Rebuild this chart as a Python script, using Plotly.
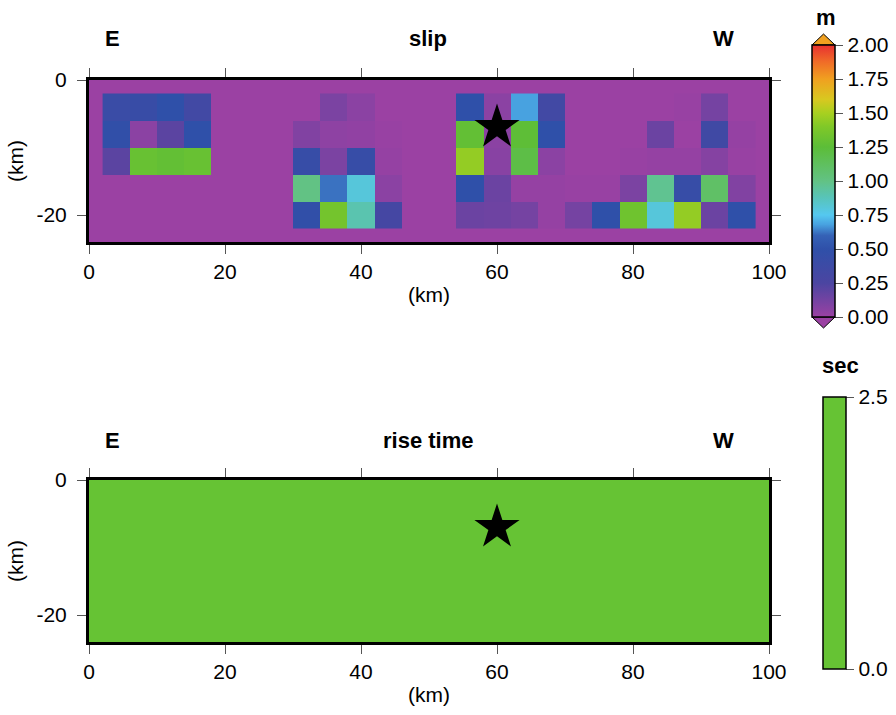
import plotly.graph_objects as go

W, H = 896, 715
FONT = "Liberation Sans, Arial, Helvetica, sans-serif"

# ---------------- data ----------------
# subfault centres along strike (km) and down dip (km)
x_centers = [4, 8, 12, 16, 20, 24, 28, 32, 36, 40, 44, 48,
             52, 56, 60, 64, 68, 72, 76, 80, 84, 88, 92, 96]
y_centers = [-4, -8, -12, -16, -20]

# slip (m), rows top (shallow) to bottom (deep)
slip = [
    [0.40, 0.42, 0.50, 0.33, 0, 0, 0, 0.00, 0.10, 0.05, 0.00, 0,
     0, 0.50, 0.05, 0.68, 0.33, 0.00, 0.00, 0.00, 0.00, 0.01, 0.12, 0.00],
    [0.48, 0.05, 0.20, 0.50, 0, 0, 0, 0.08, 0.04, 0.03, 0.01, 0,
     0, 1.28, 0.05, 1.26, 0.50, 0.00, 0.00, 0.00, 0.15, 0.00, 0.35, 0.02],
    [0.20, 1.30, 1.28, 1.30, 0, 0, 0, 0.43, 0.10, 0.43, 0.02, 0,
     0, 1.45, 0.06, 1.20, 0.05, 0.00, 0.00, 0.01, 0.02, 0.02, 0.07, 0.01],
    [0.00, 0.00, 0.00, 0.00, 0, 0, 0, 1.00, 0.62, 0.80, 0.05, 0,
     0, 0.50, 0.15, 0.02, 0.02, 0.01, 0.01, 0.10, 0.97, 0.43, 1.10, 0.08],
    [0.00, 0.00, 0.00, 0.00, 0, 0, 0, 0.48, 1.35, 0.90, 0.30, 0,
     0, 0.15, 0.14, 0.12, 0.02, 0.12, 0.50, 1.33, 0.80, 1.45, 0.15, 0.50],
]

# rise time (s): uniform
rise_time = [[1.0] * 24 for _ in range(5)]

hypo_x = [60]
hypo_y = [-7]

x_ticks = [0, 20, 40, 60, 80, 100]
y_ticks = [-20, 0]
y_ticktext = ["-20", "0"]
slip_ticks = [0, 0.25, 0.5, 0.75, 1.0, 1.25, 1.5, 1.75, 2.0]
slip_ticktext = ["0.00", "0.25", "0.50", "0.75", "1.00", "1.25", "1.50", "1.75", "2.00"]
rt_ticks = [0, 2.5]
rt_ticktext = ["0.0", "2.5"]

# ---------------- style ----------------
slip_scale = [
    [0.000, "#9b41a3"],
    [0.125, "#4b45a1"],
    [0.250, "#2f50a9"],
    [0.300, "#3562b6"],
    [0.340, "#48a2e0"],
    [0.375, "#55c8f0"],
    [0.440, "#58c4b8"],
    [0.500, "#62c284"],
    [0.625, "#5cbd38"],
    [0.700, "#80c828"],
    [0.750, "#a8d020"],
    [0.800, "#d8c820"],
    [0.875, "#f0a020"],
    [0.940, "#f06a28"],
    [1.000, "#e83030"],
]
GREEN = "#66c334"
PURPLE = "#9b41a3"
TICK_FS = 21

def px(x):
    return x / W

def py(y):
    return 1 - y / H

fig = go.Figure()

fig.add_trace(go.Heatmap(
    x=x_centers, y=y_centers, z=slip, coloraxis="coloraxis",
    xaxis="x", yaxis="y", hoverinfo="skip"))
fig.add_trace(go.Heatmap(
    x=x_centers, y=y_centers, z=rise_time, coloraxis="coloraxis2",
    xaxis="x2", yaxis="y2", hoverinfo="skip"))
for xa, ya in (("x", "y"), ("x2", "y2")):
    fig.add_trace(go.Scatter(
        x=hypo_x, y=hypo_y, mode="markers", xaxis=xa, yaxis=ya,
        marker=dict(symbol="star", size=34, color="black", line=dict(width=0)),
        showlegend=False, hoverinfo="skip"))

xdom = [px(89), px(769)]
ydom1 = [py(242), py(80)]
ydom2 = [py(642), py(480)]

def xaxis(dom, anchor):
    return dict(domain=dom, anchor=anchor, range=[0, 100], tickvals=x_ticks,
                ticks="outside", ticklen=9, tickwidth=1.2, tickcolor="#555",
                showline=True, linewidth=3, linecolor="black", mirror="ticks",
                showgrid=False, zeroline=False, automargin=False,
                tickfont=dict(size=TICK_FS, color="black"),
                title=dict(text="(km)", font=dict(size=TICK_FS, color="black"), standoff=6))

def yaxis(dom, anchor):
    return dict(domain=dom, anchor=anchor, range=[-24, 0], tickvals=y_ticks,
                ticktext=y_ticktext,
                ticks="outside", ticklen=9, tickwidth=1.2, tickcolor="#555",
                showline=True, linewidth=3, linecolor="black", mirror="ticks",
                showgrid=False, zeroline=False, automargin=False,
                ticklabelstandoff=6,
                tickfont=dict(size=TICK_FS, color="black"),
                title=dict(text="(km)", font=dict(size=TICK_FS, color="black"), standoff=8))

cb1_top, cb1_bot = 45, 317
cb2_top, cb2_bot = 397, 669
cb1_x0, cb1_x1 = 812, 835
cb2_x0, cb2_x1 = 823, 846

fig.update_layout(
    width=W, height=H, margin=dict(l=0, r=0, t=0, b=0, pad=0, autoexpand=False),
    paper_bgcolor="white", plot_bgcolor="white",
    font=dict(family=FONT, color="black"),
    showlegend=False,
    xaxis=xaxis(xdom, "y"), yaxis=yaxis(ydom1, "x"),
    xaxis2=xaxis(xdom, "y2"), yaxis2=yaxis(ydom2, "x2"),
    coloraxis=dict(
        colorscale=slip_scale, cmin=0, cmax=2,
        colorbar=dict(
            x=px(cb1_x0), xanchor="left", xpad=0, ypad=0,
            y=py((cb1_top + cb1_bot) / 2), yanchor="middle",
            lenmode="pixels", len=cb1_bot - cb1_top,
            thicknessmode="pixels", thickness=cb1_x1 - cb1_x0,
            outlinewidth=1.5, outlinecolor="black",
            tickvals=slip_ticks, ticktext=slip_ticktext,
            ticks="outside", ticklen=8, tickwidth=1.2, tickcolor="#555",
            tickfont=dict(size=TICK_FS, color="black"))),
    coloraxis2=dict(
        colorscale=[[0, GREEN], [1, GREEN]], cmin=0, cmax=2.5,
        colorbar=dict(
            x=px(cb2_x0), xanchor="left", xpad=0, ypad=0,
            y=py((cb2_top + cb2_bot) / 2), yanchor="middle",
            lenmode="pixels", len=cb2_bot - cb2_top,
            thicknessmode="pixels", thickness=cb2_x1 - cb2_x0,
            outlinewidth=1.5, outlinecolor="black",
            tickvals=rt_ticks, ticktext=rt_ticktext,
            ticks="outside", ticklen=8, tickwidth=1.2, tickcolor="#555",
            tickfont=dict(size=TICK_FS, color="black"))),
)

shapes = [
    dict(type="rect", xref="x domain", yref="y domain", x0=0, x1=1, y0=0, y1=1,
         fillcolor=PURPLE, line=dict(width=0), layer="below"),
    dict(type="rect", xref="x2 domain", yref="y2 domain", x0=0, x1=1, y0=0, y1=1,
         fillcolor=GREEN, line=dict(width=0), layer="below"),
]
# separator lines inside slip colour bar at each tick
for v in slip_ticks[1:-1]:
    yy = py(cb1_bot - (cb1_bot - cb1_top) * v / 2.0)
    shapes.append(dict(type="line", xref="paper", yref="paper",
                       x0=px(cb1_x0), x1=px(cb1_x1), y0=yy, y1=yy,
                       line=dict(color="#333", width=1.2)))
# overflow triangles
shapes.append(dict(type="path", xref="paper", yref="paper",
                   path=f"M {px(cb1_x0)},{py(cb1_top)} L {px(cb1_x1)},{py(cb1_top)} "
                        f"L {px((cb1_x0 + cb1_x1) / 2)},{py(cb1_top - 11)} Z",
                   fillcolor="#f0a020", line=dict(color="black", width=1)))
shapes.append(dict(type="path", xref="paper", yref="paper",
                   path=f"M {px(cb1_x0)},{py(cb1_bot)} L {px(cb1_x1)},{py(cb1_bot)} "
                        f"L {px((cb1_x0 + cb1_x1) / 2)},{py(cb1_bot + 11)} Z",
                   fillcolor=PURPLE, line=dict(color="black", width=1)))
fig.update_layout(shapes=shapes)

def label(text, x, y, size=22):
    fig.add_annotation(text=f"<b>{text}</b>", xref="paper", yref="paper",
                       x=px(x), y=py(y), xanchor="center", yanchor="middle",
                       showarrow=False, font=dict(size=size, color="black", family=FONT))

label("E", 112, 38)
label("slip", 428, 38)
label("W", 723, 38)
label("E", 112, 440)
label("rise time", 428, 440)
label("W", 723, 440)
label("m", 826, 17)
label("sec", 840, 365)

fig.write_html("out.html")
